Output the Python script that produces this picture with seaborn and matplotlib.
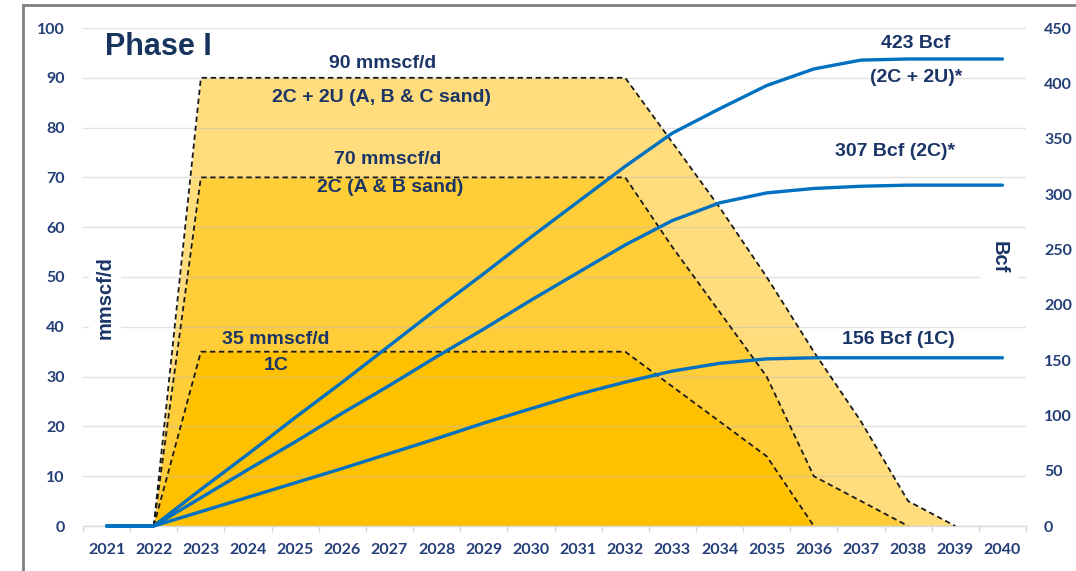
import matplotlib
matplotlib.use("Agg")
import matplotlib.pyplot as plt
from matplotlib.patches import Rectangle
from matplotlib.ticker import FixedLocator
import pandas as pd
import seaborn as sns

sns.set_theme(style="white")
plt.rcParams["font.family"] = ["Liberation Sans", "DejaVu Sans"]

# ---- data ----
years = list(range(2021, 2041))

# cumulative recovery, Bcf (right axis)
cum_2c2u = [0, 0, 33, 65, 98, 130, 163, 196, 228, 261, 293, 325, 355, 377, 398, 413, 421, 422, 422, 422]
cum_2c = [0, 0, 25.5, 51, 76, 102, 127, 153, 178, 204, 229, 254, 276, 292, 301, 305, 307, 308, 308, 308]
cum_1c = [0, 0, 13, 26, 39, 52, 65.5, 79, 93, 106, 119, 130, 140, 147, 151, 152, 152, 152, 152, 152]

# production profiles, mmscf/d (left axis)
years_2c2u = list(range(2022, 2040))
rate_2c2u = [0, 90, 90, 90, 90, 90, 90, 90, 90, 90, 90, 77, 64, 50, 35, 21, 5, 0]
years_2c = list(range(2022, 2039))
rate_2c = [0, 70, 70, 70, 70, 70, 70, 70, 70, 70, 70, 56, 43, 30, 10, 5, 0]
years_1c = list(range(2022, 2037))
rate_1c = [0, 35, 35, 35, 35, 35, 35, 35, 35, 35, 35, 28, 21, 14, 0]

plateau_labels = ["90 mmscf/d", "70 mmscf/d", "35 mmscf/d"]
case_labels = ["2C + 2U (A, B & C sand)", "2C (A & B sand)", "1C"]
cum_labels = ["423 Bcf", "(2C + 2U)*", "307 Bcf (2C)*", "156 Bcf (1C)"]

W, H = 1076, 571
NAVY = "#1A3566"
TICK = "#243E78"


def fpos(x, y):
    return x / W, 1 - y / H


fig = plt.figure(figsize=(W / 100, H / 100), dpi=100)
ax = fig.add_axes([83 / W, 45 / H, 943 / W, 498 / H])

# ---- production areas ----
areas = [
    (years_2c2u, rate_2c2u, "#FFDC7C"),
    (years_2c, rate_2c, "#FFCD38"),
    (years_1c, rate_1c, "#FFC000"),
]
for yrs, vals, col in areas:
    df = pd.DataFrame({"year": yrs, "rate": vals})
    ax.fill_between(df["year"], df["rate"], 0, color=col, lw=0, zorder=1)
    sns.lineplot(data=df, x="year", y="rate", ax=ax, color="#1A1A1A", lw=1.3,
                 linestyle=(0, (3, 2)), zorder=3)

ax.set_xlim(2020.5, 2040.5)
ax.set_ylim(0, 100)
ax.set_yticks(range(0, 101, 10))
ax.set_xticks(years)
ax.set_xticklabels([str(y) for y in years])
ax.xaxis.set_minor_locator(FixedLocator([y + 0.5 for y in range(2020, 2041)]))
ax.set_axisbelow(False)
ax.grid(axis="y", color="#BFBFBF", alpha=0.45, lw=1)
ax.grid(axis="x", visible=False)
ax.set_xlabel("")
ax.set_ylabel("")
for side in ["left", "right", "top"]:
    ax.spines[side].set_visible(False)
ax.spines["bottom"].set_color("#D9D9D9")
ax.spines["bottom"].set_linewidth(1)
ax.tick_params(axis="y", length=0, pad=13)
ax.tick_params(axis="x", which="major", length=0, pad=12)
ax.tick_params(axis="x", which="minor", length=4, width=1, color="#D9D9D9", direction="out", bottom=True)

# ---- cumulative curves ----
ax2 = ax.twinx()
ax2.patch.set_visible(False)
cum_df = pd.DataFrame({
    "year": years * 3,
    "cum": cum_2c2u + cum_2c + cum_1c,
    "case": ["2C+2U"] * 20 + ["2C"] * 20 + ["1C"] * 20,
})
sns.lineplot(data=cum_df, x="year", y="cum", hue="case",
             palette={"2C+2U": "#0070C0", "2C": "#0070C0", "1C": "#0070C0"},
             lw=2.4, ax=ax2, legend=False, clip_on=False, zorder=5)
ax2.set_ylim(0, 450)
ax2.set_yticks(range(0, 451, 50))
ax2.grid(False)
ax2.set_ylabel("")
for side in ["left", "right", "top", "bottom"]:
    ax2.spines[side].set_visible(False)
ax2.tick_params(axis="y", length=0, pad=13)

for a in (ax, ax2):
    for lab in a.get_xticklabels() + a.get_yticklabels():
        lab.set_fontfamily(["Lato", "DejaVu Sans"])
        lab.set_fontweight("bold")
        lab.set_fontsize(11.5)
        lab.set_color(TICK)

# ---- annotations ----
fig.text(*fpos(105, 47), "Phase I", ha="left", va="center", fontsize=22,
         weight="bold", color="#17345E")

txt = dict(ha="center", va="center", fontsize=14, color=NAVY, weight="bold")
fig.text(*fpos(383, 64), plateau_labels[0], **txt)
fig.text(*fpos(382, 97), case_labels[0], **txt)
fig.text(*fpos(388, 159), plateau_labels[1], **txt)
fig.text(*fpos(390, 188), case_labels[1], **txt)
fig.text(*fpos(276, 340), plateau_labels[2], **txt)
fig.text(*fpos(276, 366), case_labels[2], **txt)
fig.text(*fpos(916, 43), cum_labels[0], **txt)
fig.text(*fpos(916, 78), cum_labels[1], **txt)
fig.text(*fpos(895, 151), cum_labels[2], **txt)
fig.text(*fpos(898, 340), cum_labels[3], **txt)

fig.text(*fpos(105, 298), "mmscf/d", rotation=90, ha="center", va="center",
         fontsize=14.5, weight="bold", color=NAVY,
         bbox=dict(facecolor="white", edgecolor="none", pad=5))
fig.text(*fpos(999, 257), "Bcf", rotation=270, ha="center", va="center",
         fontsize=14.5, weight="bold", color=NAVY,
         bbox=dict(facecolor="white", edgecolor="none", pad=7))

# outer frame
fig.patches.append(Rectangle((23 / W, -0.1), 1.2, 1.1 - 5 / H, transform=fig.transFigure,
                             fill=False, edgecolor="#7F7F7F", lw=2))

fig.savefig("out.png", dpi=100)
